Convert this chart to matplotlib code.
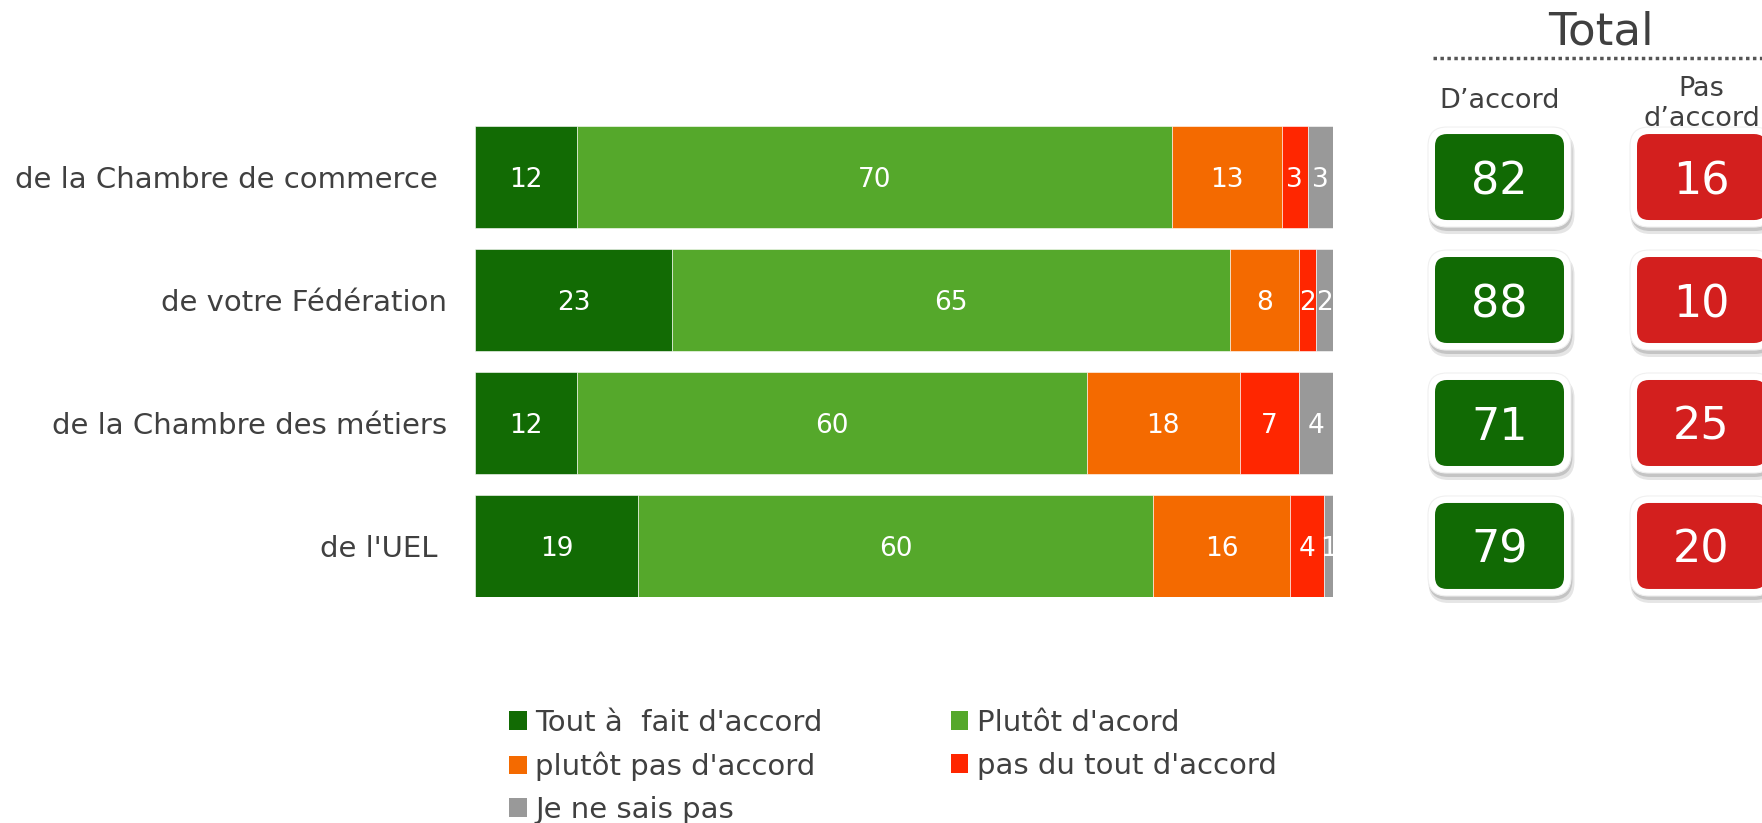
import matplotlib
matplotlib.use("Agg")
import matplotlib.pyplot as plt
import numpy as np
from matplotlib.patches import FancyBboxPatch, Patch
from matplotlib.lines import Line2D

categories = ["de la Chambre de commerce ", "de votre Fédération", "de la Chambre des métiers", "de l'UEL "]
series_names = ["Tout à  fait d'accord", "Plutôt d'acord", "plutôt pas d'accord", "pas du tout d'accord", "Je ne sais pas"]
tout_a_fait = [12, 23, 12, 19]
plutot = [70, 65, 60, 60]
plutot_pas = [13, 8, 18, 16]
pas_du_tout = [3, 2, 7, 4]
ne_sais_pas = [3, 2, 4, 1]
total_accord = [82, 88, 71, 79]
total_pas_accord = [16, 10, 25, 20]
total_headers = ["D\u2019accord", "Pas\nd\u2019accord"]

colors = ["#126b04", "#55a82b", "#f46a00", "#ff2600", "#999999"]
box_colors = ["#116a04", "#d31f1e"]
text_color = "#404040"

plt.rcParams['font.family'] = ['DejaVu Sans']

W, H = 1762, 823
fig = plt.figure(figsize=(W / 100, H / 100), dpi=100)

# bar axes (pixel geometry)
bx0, bx1, by0, by1 = 475, 1333, 126, 597
ax = fig.add_axes([bx0 / W, 1 - by1 / H, (bx1 - bx0) / W, (by1 - by0) / H])
bar_h = 0.83
n = len(categories)
ax.set_ylim(n - 1 + bar_h / 2, -bar_h / 2)
ax.set_xlim(0, 100)

data = np.array([tout_a_fait, plutot, plutot_pas, pas_du_tout, ne_sais_pas], dtype=float)
totals = data.sum(axis=0)
pct = data / totals * 100
y = np.arange(n)
left = np.zeros(n)
for i in range(data.shape[0]):
    ax.barh(y, pct[i], left=left, height=bar_h, color=colors[i], edgecolor="white", linewidth=0.4)
    for j in range(n):
        ax.text(left[j] + pct[i][j] / 2, y[j], f"{int(data[i][j])}", ha="center", va="center_baseline",
                color="white", fontsize=19, clip_on=False)
    left += pct[i]

ax.set_yticks(y)
ax.set_yticklabels(categories, fontsize=21, color=text_color)
ax.tick_params(axis="y", length=0, pad=20)
ax.set_xticks([])
for s in ax.spines.values():
    s.set_visible(False)

# total boxes axes
ax2_x0 = 1400
ax2 = fig.add_axes([ax2_x0 / W, 1 - by1 / H, (W - ax2_x0) / W, (by1 - by0) / H])
ax2.set_ylim(n - 1 + bar_h / 2, -bar_h / 2)
pxu_x = 202.0
c0 = 1499.5
ax2.set_xlim(-(c0 - ax2_x0) / pxu_x, (W - c0) / pxu_x)
ax2.axis("off")
pxu_y = (by1 - by0) / (n - 1 + bar_h)

def rbox(cx, cy, wpx, hpx, rpx, **kw):
    w = wpx / pxu_x
    h = hpx / pxu_y
    p = FancyBboxPatch((cx - w / 2, cy - h / 2), w, h,
                       boxstyle=f"round,pad=0,rounding_size={rpx / pxu_x}",
                       mutation_aspect=pxu_x / pxu_y, clip_on=False, **kw)
    ax2.add_patch(p)

for col, vals in enumerate([total_accord, total_pas_accord]):
    for j in range(n):
        cx, cy = col, y[j]
        # shadow
        rbox(cx + 2 / pxu_x, cy + 6 / pxu_y, 146, 102, 20, facecolor="#000000", alpha=0.10, edgecolor="none")
        rbox(cx + 1 / pxu_x, cy + 4 / pxu_y, 144, 100, 20, facecolor="#000000", alpha=0.14, edgecolor="none")
        rbox(cx, cy, 143, 100, 19, facecolor="white", edgecolor="#f0f0f0", linewidth=0.8)
        rbox(cx, cy, 129, 86, 12, facecolor=box_colors[col], edgecolor="none")
        ax2.text(cx, cy, f"{vals[j]}", ha="center", va="center_baseline", color="white", fontsize=32, clip_on=False)

# header
fig.text(1601 / W, 1 - 32 / H, "Total", ha="center", va="center", fontsize=32.5, color=text_color)
fig.add_artist(Line2D([1433 / W, 1.0], [1 - 58 / H, 1 - 58 / H], transform=fig.transFigure,
                      color="#555555", linestyle=(0, (1, 1)), linewidth=2.5))
fig.text(c0 / W, 1 - 101 / H, total_headers[0], ha="center", va="center", fontsize=19.5, color=text_color)
fig.text((c0 + pxu_x) / W, 1 - 104 / H, total_headers[1], ha="center", va="center", fontsize=19.5,
         color=text_color, linespacing=1.2)

# legend
handles = [Patch(facecolor=colors[i], edgecolor="none") for i in range(5)]
order = [0, 2, 4, 1, 3]
fig.legend([handles[i] for i in order], [series_names[i] for i in order],
           loc="upper left", bbox_to_anchor=(509 / W, 1 - 709 / H), ncol=2, frameon=False,
           fontsize=21, handlelength=0.6, handleheight=0.6, handletextpad=0.3,
           columnspacing=4.4, labelspacing=0.5, labelcolor=text_color, borderaxespad=0, borderpad=0)

fig.savefig("out.png", dpi=100, facecolor="white")
